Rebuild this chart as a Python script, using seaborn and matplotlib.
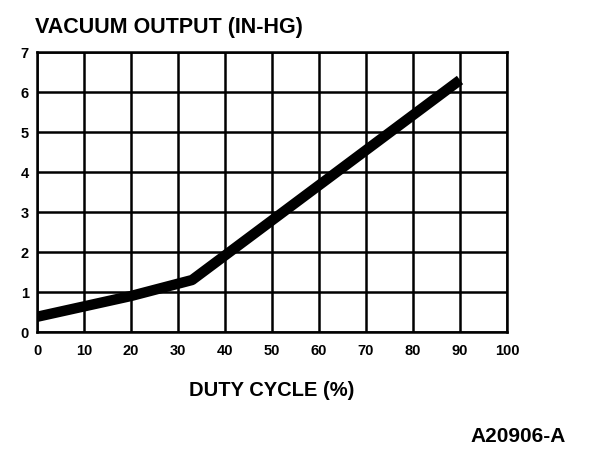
import matplotlib
matplotlib.use("Agg")
import matplotlib.pyplot as plt
import seaborn as sns
import pandas as pd

# duty cycle (%) vs vacuum output (in-hg)
duty = [0, 20, 33, 90]
vacuum = [0.38, 0.9, 1.3, 6.3]
xticks = [0, 10, 20, 30, 40, 50, 60, 70, 80, 90, 100]
yticks = [0, 1, 2, 3, 4, 5, 6, 7]

sns.set_theme(style="white")
plt.rcParams['font.family'] = ['Liberation Sans', 'DejaVu Sans']
plt.rcParams['text.color'] = 'black'
plt.rcParams['xtick.color'] = 'black'
plt.rcParams['ytick.color'] = 'black'

df = pd.DataFrame({"duty": duty, "vacuum": vacuum})

fig = plt.figure(figsize=(6.08, 4.6), dpi=100)
ax = fig.add_axes([37/608, 1 - 333/460, 470/608, 280/460])

sns.lineplot(data=df, x="duty", y="vacuum", ax=ax, color="black",
             linewidth=7.5, solid_capstyle="butt", zorder=5)

ax.set_xlim(0, 100)
ax.set_ylim(0, 7)
ax.set_xticks(xticks)
ax.set_yticks(yticks)
ax.set_xticklabels([str(t) for t in xticks], fontsize=10.5, fontweight="bold")
ax.set_yticklabels([str(t) for t in yticks], fontsize=10.5, fontweight="bold")
ax.grid(True, color="black", linewidth=1.8)
for s in ax.spines.values():
    s.set_color("black")
    s.set_linewidth(1.8)
ax.tick_params(axis="x", length=4, width=1.8, color="black", pad=4)
ax.tick_params(axis="y", length=4, width=1.8, color="black", pad=2)
ax.set_xlabel("")
ax.set_ylabel("")

fig.text(35/608, 1 - 28/460, "VACUUM OUTPUT (IN-HG)", fontsize=15.5,
         fontweight="bold", va="center", ha="left")
fig.text(272/608, 1 - 391/460, "DUTY CYCLE (%)", fontsize=14.5,
         fontweight="bold", va="center", ha="center")
fig.text(566/608, 1 - 437/460, "A20906-A", fontsize=15,
         fontweight="bold", va="center", ha="right")

fig.savefig("out.png", dpi=100, facecolor="white")
